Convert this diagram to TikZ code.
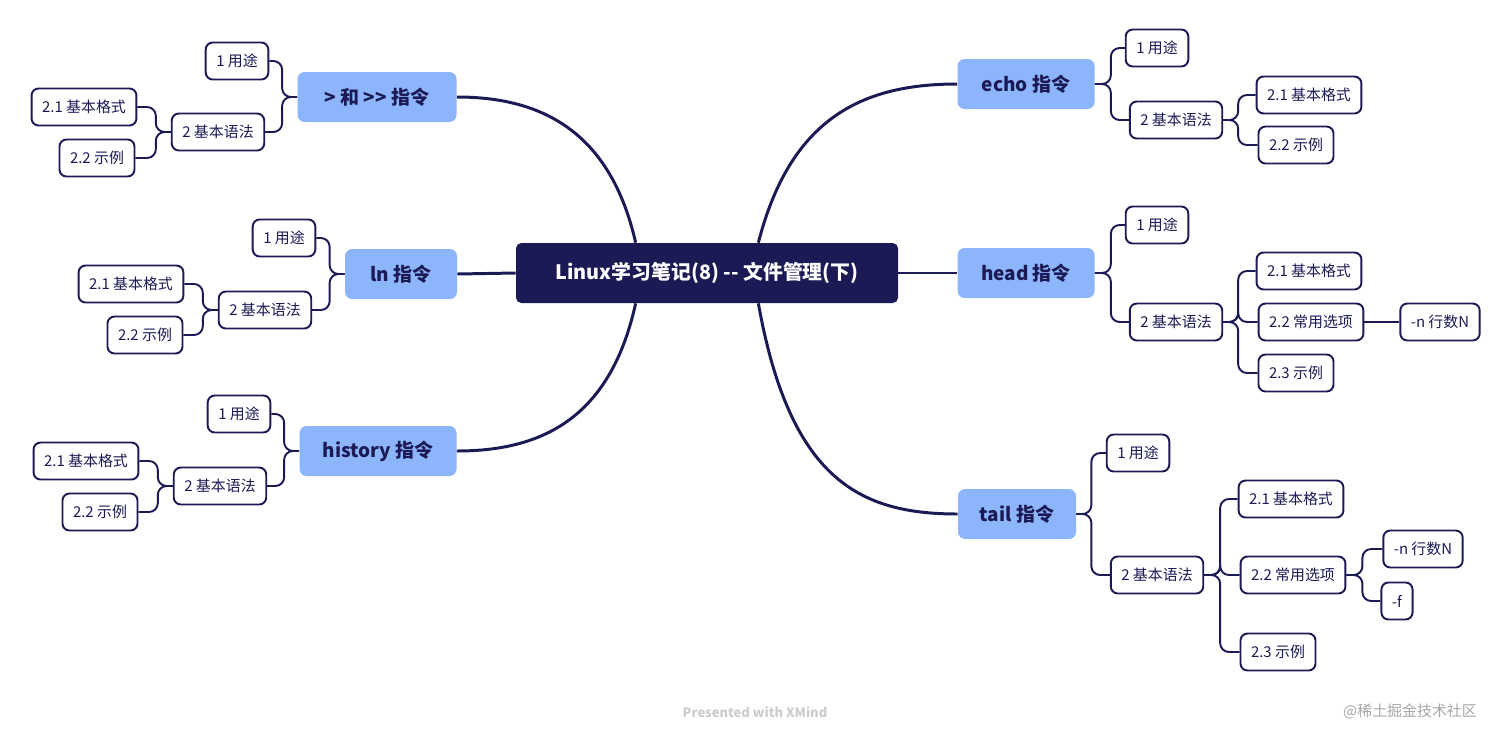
\documentclass[tikz,border=0pt]{standalone}
\usepackage{fontspec}
\setmainfont{Noto Sans CJK SC}
\usetikzlibrary{calc}
\definecolor{navy}{HTML}{1C1A55}
\definecolor{lblue}{HTML}{8CB5FC}
\tikzset{
 root/.style={fill=navy,text=white,rounded corners=3pt,minimum width=382*0.02cm,minimum height=60*0.02cm,font=\fontsize{11.3}{13}\selectfont\bfseries},
 lone/.style={fill=lblue,text=navy,rounded corners=4pt,minimum height=50*0.02cm,inner xsep=12pt,font=\fontsize{10.8}{13}\selectfont\bfseries},
 ltwo/.style={draw=navy,line width=1.1pt,fill=white,text=navy,rounded corners=4pt,minimum height=37*0.02cm,inner xsep=6pt,font=\fontsize{8.5}{10}\selectfont},
 big/.style={draw=navy,line width=1.7pt},
 conn/.style={draw=navy,line width=1.1pt,rounded corners=5pt},
}
\newcommand{\rt}[3]{\draw[conn] (#1.east) -- ++(#3,0) |- (#2.west);}
\newcommand{\lf}[3]{\draw[conn] (#1.west) -- ++(-#3,0) |- (#2.east);}
\begin{document}
\begin{tikzpicture}[x=0.02cm,y=-0.02cm]
\useasboundingbox (0,0) rectangle (1512,741);
\node[root] (c) at (707,273) {Linux学习笔记(8) -{}- 文件管理(下)};
% left level 1
\node[lone,minimum width=159*0.02cm] (a) at (377,97) {> 和 {>}{>} 指令};
\node[lone,minimum width=112*0.02cm] (b) at (401,274) {ln 指令};
\node[lone,minimum width=157*0.02cm] (h) at (378,451) {history 指令};
% right level 1
\node[lone,minimum width=137*0.02cm] (e) at (1026,84) {echo 指令};
\node[lone,minimum width=137*0.02cm] (d) at (1026,273) {head 指令};
\node[lone,minimum width=118*0.02cm] (t) at (1017,514) {tail 指令};
% main curves
\draw[big] ($(c.north west)+(120,0)$) .. controls (610,130) and (540,97) .. (a.east);
\draw[big] (c.west) -- (b.east);
\draw[big] ($(c.south west)+(120,0)$) .. controls (610,420) and (540,451) .. (h.east);
\draw[big] ($(c.north east)+(-140,0)$) .. controls (790,120) and (860,84) .. (e.west);
\draw[big] (c.east) -- (d.west);
\draw[big] ($(c.south east)+(-140,0)$) .. controls (790,480) and (860,514) .. (t.west);
% left group a
\node[ltwo] (a1) at (237,61) {1 用途};
\node[ltwo] (a2) at (218,132) {2 基本语法};
\node[ltwo] (a21) at (84,107) {2.1 基本格式};
\node[ltwo] (a22) at (97,158) {2.2 示例};
\lf{a}{a1}{15}\lf{a}{a2}{15}\lf{a2}{a21}{15}\lf{a2}{a22}{15}
% ln
\node[ltwo] (b1) at (284,238) {1 用途};
\node[ltwo] (b2) at (265,310) {2 基本语法};
\node[ltwo] (b21) at (131,284) {2.1 基本格式};
\node[ltwo] (b22) at (145,335) {2.2 示例};
\lf{b}{b1}{15}\lf{b}{b2}{15}\lf{b2}{b21}{15}\lf{b2}{b22}{15}
% history
\node[ltwo] (h1) at (239,414) {1 用途};
\node[ltwo] (h2) at (220,486) {2 基本语法};
\node[ltwo] (h21) at (86,461) {2.1 基本格式};
\node[ltwo] (h22) at (100,512) {2.2 示例};
\lf{h}{h1}{15}\lf{h}{h2}{15}\lf{h2}{h21}{15}\lf{h2}{h22}{15}
% echo
\node[ltwo] (e1) at (1157,48) {1 用途};
\node[ltwo] (e2) at (1176,120) {2 基本语法};
\node[ltwo] (e21) at (1309,95) {2.1 基本格式};
\node[ltwo] (e22) at (1296,145) {2.2 示例};
\rt{e}{e1}{16}\rt{e}{e2}{16}\rt{e2}{e21}{15}\rt{e2}{e22}{15}
% head
\node[ltwo] (d1) at (1157,225) {1 用途};
\node[ltwo] (d2) at (1176,322) {2 基本语法};
\node[ltwo] (d21) at (1309,271) {2.1 基本格式};
\node[ltwo] (d22) at (1311,322) {2.2 常用选项};
\node[ltwo] (d221) at (1440,322) {-n 行数N};
\node[ltwo] (d23) at (1296,373) {2.3 示例};
\rt{d}{d1}{16}\rt{d}{d2}{16}\rt{d2}{d21}{15}\rt{d2}{d22}{15}\rt{d2}{d23}{15}
\draw[conn] (d22.east) -- (d221.west);
% tail
\node[ltwo] (t1) at (1138,453) {1 用途};
\node[ltwo] (t2) at (1157,575) {2 基本语法};
\node[ltwo] (t21) at (1291,499) {2.1 基本格式};
\node[ltwo] (t22) at (1293,575) {2.2 常用选项};
\node[ltwo] (t221) at (1423,549) {-n 行数N};
\node[ltwo] (t222) at (1397,601) {-f};
\node[ltwo] (t23) at (1278,652) {2.3 示例};
\rt{t}{t1}{15}\rt{t}{t2}{15}\rt{t2}{t21}{16}\rt{t2}{t22}{16}\rt{t2}{t23}{16}
\rt{t22}{t221}{16}\rt{t22}{t222}{16}
% footer
\node[text=black!20,font=\fontsize{7.4}{9}\selectfont\bfseries] (f1) at (755,712) {Presented with XMind};
\node[text=black!35,font=\fontsize{8.5}{10}\selectfont] (f2) at (1410,711) {@稀土掘金技术社区};
\end{tikzpicture}
\end{document}
